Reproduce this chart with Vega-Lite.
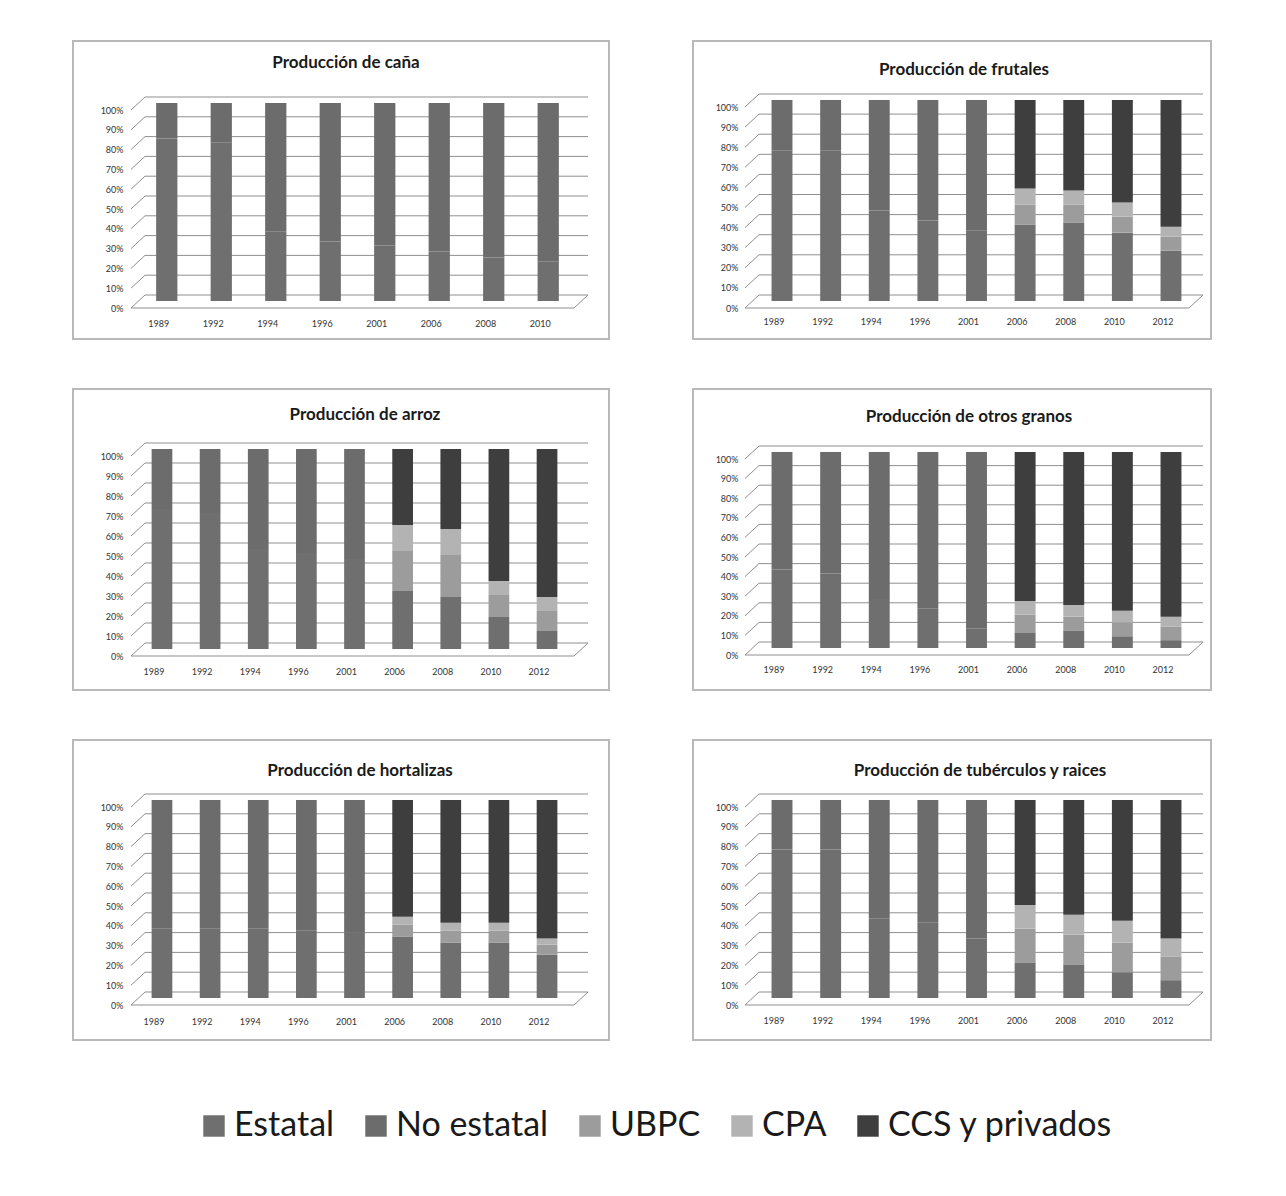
{
  "$schema": "https://vega.github.io/schema/vega-lite/v6.json",
  "background": "white",
  "padding": {"left": 72, "top": 40, "right": 0, "bottom": 0},
  "datasets": {
    "ticks": [{"v": 0}, {"v": 0.1}, {"v": 0.2}, {"v": 0.3}, {"v": 0.4}, {"v": 0.5}, {"v": 0.6}, {"v": 0.7}, {"v": 0.8}, {"v": 0.9}, {"v": 1}],
    "prod": [
      {"panel": "caña", "year": "1989", "group": "Estatal", "pct": 82}, {"panel": "caña", "year": "1989", "group": "No estatal", "pct": 18},
      {"panel": "caña", "year": "1992", "group": "Estatal", "pct": 80}, {"panel": "caña", "year": "1992", "group": "No estatal", "pct": 20},
      {"panel": "caña", "year": "1994", "group": "Estatal", "pct": 35}, {"panel": "caña", "year": "1994", "group": "No estatal", "pct": 65},
      {"panel": "caña", "year": "1996", "group": "Estatal", "pct": 30}, {"panel": "caña", "year": "1996", "group": "No estatal", "pct": 70},
      {"panel": "caña", "year": "2001", "group": "Estatal", "pct": 28}, {"panel": "caña", "year": "2001", "group": "No estatal", "pct": 72},
      {"panel": "caña", "year": "2006", "group": "Estatal", "pct": 25}, {"panel": "caña", "year": "2006", "group": "No estatal", "pct": 75},
      {"panel": "caña", "year": "2008", "group": "Estatal", "pct": 22}, {"panel": "caña", "year": "2008", "group": "No estatal", "pct": 78},
      {"panel": "caña", "year": "2010", "group": "Estatal", "pct": 20}, {"panel": "caña", "year": "2010", "group": "No estatal", "pct": 80},

      {"panel": "frutales", "year": "1989", "group": "Estatal", "pct": 75}, {"panel": "frutales", "year": "1989", "group": "No estatal", "pct": 25},
      {"panel": "frutales", "year": "1992", "group": "Estatal", "pct": 75}, {"panel": "frutales", "year": "1992", "group": "No estatal", "pct": 25},
      {"panel": "frutales", "year": "1994", "group": "Estatal", "pct": 45}, {"panel": "frutales", "year": "1994", "group": "No estatal", "pct": 55},
      {"panel": "frutales", "year": "1996", "group": "Estatal", "pct": 40}, {"panel": "frutales", "year": "1996", "group": "No estatal", "pct": 60},
      {"panel": "frutales", "year": "2001", "group": "Estatal", "pct": 35}, {"panel": "frutales", "year": "2001", "group": "No estatal", "pct": 65},
      {"panel": "frutales", "year": "2006", "group": "Estatal", "pct": 38}, {"panel": "frutales", "year": "2006", "group": "UBPC", "pct": 10}, {"panel": "frutales", "year": "2006", "group": "CPA", "pct": 8}, {"panel": "frutales", "year": "2006", "group": "CCS y privados", "pct": 44},
      {"panel": "frutales", "year": "2008", "group": "Estatal", "pct": 39}, {"panel": "frutales", "year": "2008", "group": "UBPC", "pct": 9}, {"panel": "frutales", "year": "2008", "group": "CPA", "pct": 7}, {"panel": "frutales", "year": "2008", "group": "CCS y privados", "pct": 45},
      {"panel": "frutales", "year": "2010", "group": "Estatal", "pct": 34}, {"panel": "frutales", "year": "2010", "group": "UBPC", "pct": 8}, {"panel": "frutales", "year": "2010", "group": "CPA", "pct": 7}, {"panel": "frutales", "year": "2010", "group": "CCS y privados", "pct": 51},
      {"panel": "frutales", "year": "2012", "group": "Estatal", "pct": 25}, {"panel": "frutales", "year": "2012", "group": "UBPC", "pct": 7}, {"panel": "frutales", "year": "2012", "group": "CPA", "pct": 5}, {"panel": "frutales", "year": "2012", "group": "CCS y privados", "pct": 63},

      {"panel": "arroz", "year": "1989", "group": "Estatal", "pct": 70}, {"panel": "arroz", "year": "1989", "group": "No estatal", "pct": 30},
      {"panel": "arroz", "year": "1992", "group": "Estatal", "pct": 68}, {"panel": "arroz", "year": "1992", "group": "No estatal", "pct": 32},
      {"panel": "arroz", "year": "1994", "group": "Estatal", "pct": 50}, {"panel": "arroz", "year": "1994", "group": "No estatal", "pct": 50},
      {"panel": "arroz", "year": "1996", "group": "Estatal", "pct": 48}, {"panel": "arroz", "year": "1996", "group": "No estatal", "pct": 52},
      {"panel": "arroz", "year": "2001", "group": "Estatal", "pct": 45}, {"panel": "arroz", "year": "2001", "group": "No estatal", "pct": 55},
      {"panel": "arroz", "year": "2006", "group": "Estatal", "pct": 29}, {"panel": "arroz", "year": "2006", "group": "UBPC", "pct": 20}, {"panel": "arroz", "year": "2006", "group": "CPA", "pct": 13}, {"panel": "arroz", "year": "2006", "group": "CCS y privados", "pct": 38},
      {"panel": "arroz", "year": "2008", "group": "Estatal", "pct": 26}, {"panel": "arroz", "year": "2008", "group": "UBPC", "pct": 21}, {"panel": "arroz", "year": "2008", "group": "CPA", "pct": 13}, {"panel": "arroz", "year": "2008", "group": "CCS y privados", "pct": 40},
      {"panel": "arroz", "year": "2010", "group": "Estatal", "pct": 16}, {"panel": "arroz", "year": "2010", "group": "UBPC", "pct": 11}, {"panel": "arroz", "year": "2010", "group": "CPA", "pct": 7}, {"panel": "arroz", "year": "2010", "group": "CCS y privados", "pct": 66},
      {"panel": "arroz", "year": "2012", "group": "Estatal", "pct": 9}, {"panel": "arroz", "year": "2012", "group": "UBPC", "pct": 10}, {"panel": "arroz", "year": "2012", "group": "CPA", "pct": 7}, {"panel": "arroz", "year": "2012", "group": "CCS y privados", "pct": 74},

      {"panel": "granos", "year": "1989", "group": "Estatal", "pct": 40}, {"panel": "granos", "year": "1989", "group": "No estatal", "pct": 60},
      {"panel": "granos", "year": "1992", "group": "Estatal", "pct": 38}, {"panel": "granos", "year": "1992", "group": "No estatal", "pct": 62},
      {"panel": "granos", "year": "1994", "group": "Estatal", "pct": 25}, {"panel": "granos", "year": "1994", "group": "No estatal", "pct": 75},
      {"panel": "granos", "year": "1996", "group": "Estatal", "pct": 20}, {"panel": "granos", "year": "1996", "group": "No estatal", "pct": 80},
      {"panel": "granos", "year": "2001", "group": "Estatal", "pct": 10}, {"panel": "granos", "year": "2001", "group": "No estatal", "pct": 90},
      {"panel": "granos", "year": "2006", "group": "Estatal", "pct": 8}, {"panel": "granos", "year": "2006", "group": "UBPC", "pct": 9}, {"panel": "granos", "year": "2006", "group": "CPA", "pct": 7}, {"panel": "granos", "year": "2006", "group": "CCS y privados", "pct": 76},
      {"panel": "granos", "year": "2008", "group": "Estatal", "pct": 9}, {"panel": "granos", "year": "2008", "group": "UBPC", "pct": 7}, {"panel": "granos", "year": "2008", "group": "CPA", "pct": 6}, {"panel": "granos", "year": "2008", "group": "CCS y privados", "pct": 78},
      {"panel": "granos", "year": "2010", "group": "Estatal", "pct": 6}, {"panel": "granos", "year": "2010", "group": "UBPC", "pct": 7}, {"panel": "granos", "year": "2010", "group": "CPA", "pct": 6}, {"panel": "granos", "year": "2010", "group": "CCS y privados", "pct": 81},
      {"panel": "granos", "year": "2012", "group": "Estatal", "pct": 4}, {"panel": "granos", "year": "2012", "group": "UBPC", "pct": 7}, {"panel": "granos", "year": "2012", "group": "CPA", "pct": 5}, {"panel": "granos", "year": "2012", "group": "CCS y privados", "pct": 84},

      {"panel": "hortalizas", "year": "1989", "group": "Estatal", "pct": 35}, {"panel": "hortalizas", "year": "1989", "group": "No estatal", "pct": 65},
      {"panel": "hortalizas", "year": "1992", "group": "Estatal", "pct": 35}, {"panel": "hortalizas", "year": "1992", "group": "No estatal", "pct": 65},
      {"panel": "hortalizas", "year": "1994", "group": "Estatal", "pct": 35}, {"panel": "hortalizas", "year": "1994", "group": "No estatal", "pct": 65},
      {"panel": "hortalizas", "year": "1996", "group": "Estatal", "pct": 34}, {"panel": "hortalizas", "year": "1996", "group": "No estatal", "pct": 66},
      {"panel": "hortalizas", "year": "2001", "group": "Estatal", "pct": 33}, {"panel": "hortalizas", "year": "2001", "group": "No estatal", "pct": 67},
      {"panel": "hortalizas", "year": "2006", "group": "Estatal", "pct": 31}, {"panel": "hortalizas", "year": "2006", "group": "UBPC", "pct": 6}, {"panel": "hortalizas", "year": "2006", "group": "CPA", "pct": 4}, {"panel": "hortalizas", "year": "2006", "group": "CCS y privados", "pct": 59},
      {"panel": "hortalizas", "year": "2008", "group": "Estatal", "pct": 28}, {"panel": "hortalizas", "year": "2008", "group": "UBPC", "pct": 6}, {"panel": "hortalizas", "year": "2008", "group": "CPA", "pct": 4}, {"panel": "hortalizas", "year": "2008", "group": "CCS y privados", "pct": 62},
      {"panel": "hortalizas", "year": "2010", "group": "Estatal", "pct": 28}, {"panel": "hortalizas", "year": "2010", "group": "UBPC", "pct": 6}, {"panel": "hortalizas", "year": "2010", "group": "CPA", "pct": 4}, {"panel": "hortalizas", "year": "2010", "group": "CCS y privados", "pct": 62},
      {"panel": "hortalizas", "year": "2012", "group": "Estatal", "pct": 22}, {"panel": "hortalizas", "year": "2012", "group": "UBPC", "pct": 5}, {"panel": "hortalizas", "year": "2012", "group": "CPA", "pct": 3}, {"panel": "hortalizas", "year": "2012", "group": "CCS y privados", "pct": 70},

      {"panel": "tuberculos", "year": "1989", "group": "Estatal", "pct": 75}, {"panel": "tuberculos", "year": "1989", "group": "No estatal", "pct": 25},
      {"panel": "tuberculos", "year": "1992", "group": "Estatal", "pct": 75}, {"panel": "tuberculos", "year": "1992", "group": "No estatal", "pct": 25},
      {"panel": "tuberculos", "year": "1994", "group": "Estatal", "pct": 40}, {"panel": "tuberculos", "year": "1994", "group": "No estatal", "pct": 60},
      {"panel": "tuberculos", "year": "1996", "group": "Estatal", "pct": 38}, {"panel": "tuberculos", "year": "1996", "group": "No estatal", "pct": 62},
      {"panel": "tuberculos", "year": "2001", "group": "Estatal", "pct": 30}, {"panel": "tuberculos", "year": "2001", "group": "No estatal", "pct": 70},
      {"panel": "tuberculos", "year": "2006", "group": "Estatal", "pct": 18}, {"panel": "tuberculos", "year": "2006", "group": "UBPC", "pct": 17}, {"panel": "tuberculos", "year": "2006", "group": "CPA", "pct": 12}, {"panel": "tuberculos", "year": "2006", "group": "CCS y privados", "pct": 53},
      {"panel": "tuberculos", "year": "2008", "group": "Estatal", "pct": 17}, {"panel": "tuberculos", "year": "2008", "group": "UBPC", "pct": 15}, {"panel": "tuberculos", "year": "2008", "group": "CPA", "pct": 10}, {"panel": "tuberculos", "year": "2008", "group": "CCS y privados", "pct": 58},
      {"panel": "tuberculos", "year": "2010", "group": "Estatal", "pct": 13}, {"panel": "tuberculos", "year": "2010", "group": "UBPC", "pct": 15}, {"panel": "tuberculos", "year": "2010", "group": "CPA", "pct": 11}, {"panel": "tuberculos", "year": "2010", "group": "CCS y privados", "pct": 61},
      {"panel": "tuberculos", "year": "2012", "group": "Estatal", "pct": 9}, {"panel": "tuberculos", "year": "2012", "group": "UBPC", "pct": 12}, {"panel": "tuberculos", "year": "2012", "group": "CPA", "pct": 9}, {"panel": "tuberculos", "year": "2012", "group": "CCS y privados", "pct": 70}
    ]
  },
  "config": {
    "view": {"stroke": "#b9b9b9", "strokeWidth": 2},
    "font": "Lato",
    "axis": {"labelFont": "Lato", "labelFontSize": 9, "labelColor": "#333333", "labelOverlap": false, "ticks": false, "domain": false, "grid": false, "title": null},
    "title": {"font": "Lato", "fontSize": 17, "fontWeight": "bold", "color": "#1a1a1a", "anchor": "middle"},
    "bar": {"strokeWidth": 0},
    "legend": {
      "orient": "none", "legendX": 124, "legendY": 1068, "direction": "horizontal",
      "symbolType": "square", "symbolSize": 460, "symbolStrokeWidth": 0, "symbolOpacity": 1,
      "labelFont": "Lato", "labelFontSize": 34, "labelColor": "#1a1a1a", "labelOffset": 3, "labelLimit": 0,
      "columnPadding": 24, "padding": 0, "title": null
    }
  },
  "columns": 2,
  "spacing": {"row": 48, "column": 82},
  "resolve": {"scale": {"color": "shared"}, "legend": {"color": "shared"}},
  "concat": [
    {
      "width": 536, "height": 298,
      "title": {"text": "Producción de caña", "offset": -31, "dx": 5},
      "layer": [
        {
          "data": {"name": "ticks"},
          "layer": [
            {"mark": {"type": "rule", "color": "#8f8f8f", "yOffset": -6},
             "encoding": {"x": {"datum": 0, "type": "quantitative", "scale": {"domain": [0, 1], "range": [72, 515]}, "axis": null}, "x2": {"datum": 1},
                          "y": {"field": "v", "type": "quantitative", "scale": {"domain": [0, 1], "range": [260, 62], "nice": false}}}},
            {"mark": {"type": "rule", "color": "#8f8f8f", "xOffset": -14, "yOffset": 7, "y2Offset": -6},
             "encoding": {"x": {"datum": 0, "type": "quantitative"}, "x2": {"datum": 0}, "y": {"field": "v", "type": "quantitative"}, "y2": {"field": "v"}}},
            {"transform": [{"filter": "datum.v == 0"}],
             "mark": {"type": "rule", "color": "#8f8f8f", "xOffset": -14, "x2Offset": -14, "yOffset": 7},
             "encoding": {"x": {"datum": 0, "type": "quantitative"}, "x2": {"datum": 1}, "y": {"field": "v", "type": "quantitative"}}},
            {"transform": [{"filter": "datum.v == 0"}],
             "mark": {"type": "rule", "color": "#8f8f8f", "xOffset": -14, "yOffset": 7, "y2Offset": -6},
             "encoding": {"x": {"datum": 1, "type": "quantitative"}, "x2": {"datum": 1}, "y": {"field": "v", "type": "quantitative"}, "y2": {"field": "v"}}}
          ]
        },
        {
          "data": {"name": "prod"},
          "transform": [{"filter": "datum.panel == 'caña'"}, {"calculate": "indexof(['Estatal','No estatal','UBPC','CPA','CCS y privados'], datum.group)", "as": "k"}],
          "mark": {"type": "bar"},
          "encoding": {
            "x": {"field": "year", "type": "nominal", "scale": {"range": [66.8, 502.2], "paddingInner": 0.61, "paddingOuter": 0.3}, "axis": {"orient": "bottom", "offset": -22, "labelPadding": 2, "labelOffset": -8, "labelAngle": 0}},
            "y": {"field": "pct", "type": "quantitative", "stack": "normalize", "scale": {"domain": [0, 1], "range": [260, 62], "nice": false}, "axis": {"orient": "left", "offset": -52, "labelPadding": 2, "labelOffset": 7, "labelOverlap": false, "tickCount": 11, "values": [0, 0.1, 0.2, 0.3, 0.4, 0.5, 0.6, 0.7, 0.8, 0.9, 1], "format": ".0%"}},
            "color": {"field": "group", "type": "nominal", "scale": {"domain": ["Estatal", "No estatal", "UBPC", "CPA", "CCS y privados"], "range": ["#6f6f6f", "#6c6c6c", "#9c9c9c", "#b3b3b3", "#3e3e3e"]}},
            "order": {"field": "k", "type": "quantitative"}
          }
        }
      ],
      "resolve": {"scale": {"x": "independent"}}
    },
    {
      "width": 518, "height": 298,
      "title": {"text": "Producción de frutales", "offset": -38, "dx": 12},
      "layer": [
        {
          "data": {"name": "ticks"},
          "layer": [
            {"mark": {"type": "rule", "color": "#8f8f8f", "yOffset": -6},
             "encoding": {"x": {"datum": 0, "type": "quantitative", "scale": {"domain": [0, 1], "range": [66, 510]}, "axis": null}, "x2": {"datum": 1},
                          "y": {"field": "v", "type": "quantitative", "scale": {"domain": [0, 1], "range": [260, 59], "nice": false}}}},
            {"mark": {"type": "rule", "color": "#8f8f8f", "xOffset": -14, "yOffset": 7, "y2Offset": -6},
             "encoding": {"x": {"datum": 0, "type": "quantitative"}, "x2": {"datum": 0}, "y": {"field": "v", "type": "quantitative"}, "y2": {"field": "v"}}},
            {"transform": [{"filter": "datum.v == 0"}],
             "mark": {"type": "rule", "color": "#8f8f8f", "xOffset": -14, "x2Offset": -14, "yOffset": 7},
             "encoding": {"x": {"datum": 0, "type": "quantitative"}, "x2": {"datum": 1}, "y": {"field": "v", "type": "quantitative"}}},
            {"transform": [{"filter": "datum.v == 0"}],
             "mark": {"type": "rule", "color": "#8f8f8f", "xOffset": -14, "yOffset": 7, "y2Offset": -6},
             "encoding": {"x": {"datum": 1, "type": "quantitative"}, "x2": {"datum": 1}, "y": {"field": "v", "type": "quantitative"}, "y2": {"field": "v"}}}
          ]
        },
        {
          "data": {"name": "prod"},
          "transform": [{"filter": "datum.panel == 'frutales'"}, {"calculate": "indexof(['Estatal','No estatal','UBPC','CPA','CCS y privados'], datum.group)", "as": "k"}],
          "mark": {"type": "bar"},
          "encoding": {
            "x": {"field": "year", "type": "nominal", "scale": {"range": [64.7, 502.3], "paddingInner": 0.57, "paddingOuter": 0.285}, "axis": {"orient": "bottom", "offset": -24, "labelPadding": 2, "labelOffset": -8, "labelAngle": 0}},
            "y": {"field": "pct", "type": "quantitative", "stack": "normalize", "scale": {"domain": [0, 1], "range": [260, 59], "nice": false}, "axis": {"orient": "left", "offset": -47, "labelPadding": 2, "labelOffset": 7, "labelOverlap": false, "tickCount": 11, "values": [0, 0.1, 0.2, 0.3, 0.4, 0.5, 0.6, 0.7, 0.8, 0.9, 1], "format": ".0%"}},
            "color": {"field": "group", "type": "nominal"},
            "order": {"field": "k", "type": "quantitative"}
          }
        }
      ],
      "resolve": {"scale": {"x": "independent"}}
    },
    {
      "width": 536, "height": 301,
      "title": {"text": "Producción de arroz", "offset": -35, "dx": 24},
      "layer": [
        {
          "data": {"name": "ticks"},
          "layer": [
            {"mark": {"type": "rule", "color": "#8f8f8f", "yOffset": -6},
             "encoding": {"x": {"datum": 0, "type": "quantitative", "scale": {"domain": [0, 1], "range": [72, 515]}, "axis": null}, "x2": {"datum": 1},
                          "y": {"field": "v", "type": "quantitative", "scale": {"domain": [0, 1], "range": [260, 60], "nice": false}}}},
            {"mark": {"type": "rule", "color": "#8f8f8f", "xOffset": -14, "yOffset": 7, "y2Offset": -6},
             "encoding": {"x": {"datum": 0, "type": "quantitative"}, "x2": {"datum": 0}, "y": {"field": "v", "type": "quantitative"}, "y2": {"field": "v"}}},
            {"transform": [{"filter": "datum.v == 0"}],
             "mark": {"type": "rule", "color": "#8f8f8f", "xOffset": -14, "x2Offset": -14, "yOffset": 7},
             "encoding": {"x": {"datum": 0, "type": "quantitative"}, "x2": {"datum": 1}, "y": {"field": "v", "type": "quantitative"}}},
            {"transform": [{"filter": "datum.v == 0"}],
             "mark": {"type": "rule", "color": "#8f8f8f", "xOffset": -14, "yOffset": 7, "y2Offset": -6},
             "encoding": {"x": {"datum": 1, "type": "quantitative"}, "x2": {"datum": 1}, "y": {"field": "v", "type": "quantitative"}, "y2": {"field": "v"}}}
          ]
        },
        {
          "data": {"name": "prod"},
          "transform": [{"filter": "datum.panel == 'arroz'"}, {"calculate": "indexof(['Estatal','No estatal','UBPC','CPA','CCS y privados'], datum.group)", "as": "k"}],
          "mark": {"type": "bar"},
          "encoding": {
            "x": {"field": "year", "type": "nominal", "scale": {"range": [64.9, 498.1], "paddingInner": 0.57, "paddingOuter": 0.285}, "axis": {"orient": "bottom", "offset": -25, "labelPadding": 2, "labelOffset": -8, "labelAngle": 0}},
            "y": {"field": "pct", "type": "quantitative", "stack": "normalize", "scale": {"domain": [0, 1], "range": [260, 60], "nice": false}, "axis": {"orient": "left", "offset": -52, "labelPadding": 2, "labelOffset": 7, "labelOverlap": false, "tickCount": 11, "values": [0, 0.1, 0.2, 0.3, 0.4, 0.5, 0.6, 0.7, 0.8, 0.9, 1], "format": ".0%"}},
            "color": {"field": "group", "type": "nominal"},
            "order": {"field": "k", "type": "quantitative"}
          }
        }
      ],
      "resolve": {"scale": {"x": "independent"}}
    },
    {
      "width": 518, "height": 301,
      "title": {"text": "Producción de otros granos", "offset": -37, "dx": 17},
      "layer": [
        {
          "data": {"name": "ticks"},
          "layer": [
            {"mark": {"type": "rule", "color": "#8f8f8f", "yOffset": -6},
             "encoding": {"x": {"datum": 0, "type": "quantitative", "scale": {"domain": [0, 1], "range": [66, 510]}, "axis": null}, "x2": {"datum": 1},
                          "y": {"field": "v", "type": "quantitative", "scale": {"domain": [0, 1], "range": [259, 63], "nice": false}}}},
            {"mark": {"type": "rule", "color": "#8f8f8f", "xOffset": -14, "yOffset": 7, "y2Offset": -6},
             "encoding": {"x": {"datum": 0, "type": "quantitative"}, "x2": {"datum": 0}, "y": {"field": "v", "type": "quantitative"}, "y2": {"field": "v"}}},
            {"transform": [{"filter": "datum.v == 0"}],
             "mark": {"type": "rule", "color": "#8f8f8f", "xOffset": -14, "x2Offset": -14, "yOffset": 7},
             "encoding": {"x": {"datum": 0, "type": "quantitative"}, "x2": {"datum": 1}, "y": {"field": "v", "type": "quantitative"}}},
            {"transform": [{"filter": "datum.v == 0"}],
             "mark": {"type": "rule", "color": "#8f8f8f", "xOffset": -14, "yOffset": 7, "y2Offset": -6},
             "encoding": {"x": {"datum": 1, "type": "quantitative"}, "x2": {"datum": 1}, "y": {"field": "v", "type": "quantitative"}, "y2": {"field": "v"}}}
          ]
        },
        {
          "data": {"name": "prod"},
          "transform": [{"filter": "datum.panel == 'granos'"}, {"calculate": "indexof(['Estatal','No estatal','UBPC','CPA','CCS y privados'], datum.group)", "as": "k"}],
          "mark": {"type": "bar"},
          "encoding": {
            "x": {"field": "year", "type": "nominal", "scale": {"range": [64.7, 502.3], "paddingInner": 0.57, "paddingOuter": 0.285}, "axis": {"orient": "bottom", "offset": -27, "labelPadding": 2, "labelOffset": -8, "labelAngle": 0}},
            "y": {"field": "pct", "type": "quantitative", "stack": "normalize", "scale": {"domain": [0, 1], "range": [259, 63], "nice": false}, "axis": {"orient": "left", "offset": -47, "labelPadding": 2, "labelOffset": 7, "labelOverlap": false, "tickCount": 11, "values": [0, 0.1, 0.2, 0.3, 0.4, 0.5, 0.6, 0.7, 0.8, 0.9, 1], "format": ".0%"}},
            "color": {"field": "group", "type": "nominal"},
            "order": {"field": "k", "type": "quantitative"}
          }
        }
      ],
      "resolve": {"scale": {"x": "independent"}}
    },
    {
      "width": 536, "height": 300,
      "title": {"text": "Producción de hortalizas", "offset": -40, "dx": 19},
      "layer": [
        {
          "data": {"name": "ticks"},
          "layer": [
            {"mark": {"type": "rule", "color": "#8f8f8f", "yOffset": -6},
             "encoding": {"x": {"datum": 0, "type": "quantitative", "scale": {"domain": [0, 1], "range": [72, 515]}, "axis": null}, "x2": {"datum": 1},
                          "y": {"field": "v", "type": "quantitative", "scale": {"domain": [0, 1], "range": [258, 60], "nice": false}}}},
            {"mark": {"type": "rule", "color": "#8f8f8f", "xOffset": -14, "yOffset": 7, "y2Offset": -6},
             "encoding": {"x": {"datum": 0, "type": "quantitative"}, "x2": {"datum": 0}, "y": {"field": "v", "type": "quantitative"}, "y2": {"field": "v"}}},
            {"transform": [{"filter": "datum.v == 0"}],
             "mark": {"type": "rule", "color": "#8f8f8f", "xOffset": -14, "x2Offset": -14, "yOffset": 7},
             "encoding": {"x": {"datum": 0, "type": "quantitative"}, "x2": {"datum": 1}, "y": {"field": "v", "type": "quantitative"}}},
            {"transform": [{"filter": "datum.v == 0"}],
             "mark": {"type": "rule", "color": "#8f8f8f", "xOffset": -14, "yOffset": 7, "y2Offset": -6},
             "encoding": {"x": {"datum": 1, "type": "quantitative"}, "x2": {"datum": 1}, "y": {"field": "v", "type": "quantitative"}, "y2": {"field": "v"}}}
          ]
        },
        {
          "data": {"name": "prod"},
          "transform": [{"filter": "datum.panel == 'hortalizas'"}, {"calculate": "indexof(['Estatal','No estatal','UBPC','CPA','CCS y privados'], datum.group)", "as": "k"}],
          "mark": {"type": "bar"},
          "encoding": {
            "x": {"field": "year", "type": "nominal", "scale": {"range": [64.9, 498.1], "paddingInner": 0.57, "paddingOuter": 0.285}, "axis": {"orient": "bottom", "offset": -25, "labelPadding": 2, "labelOffset": -8, "labelAngle": 0}},
            "y": {"field": "pct", "type": "quantitative", "stack": "normalize", "scale": {"domain": [0, 1], "range": [258, 60], "nice": false}, "axis": {"orient": "left", "offset": -52, "labelPadding": 2, "labelOffset": 7, "labelOverlap": false, "tickCount": 11, "values": [0, 0.1, 0.2, 0.3, 0.4, 0.5, 0.6, 0.7, 0.8, 0.9, 1], "format": ".0%"}},
            "color": {"field": "group", "type": "nominal"},
            "order": {"field": "k", "type": "quantitative"}
          }
        }
      ],
      "resolve": {"scale": {"x": "independent"}}
    },
    {
      "width": 518, "height": 300,
      "title": {"text": "Producción de tubérculos y raices", "offset": -40, "dx": 28},
      "layer": [
        {
          "data": {"name": "ticks"},
          "layer": [
            {"mark": {"type": "rule", "color": "#8f8f8f", "yOffset": -6},
             "encoding": {"x": {"datum": 0, "type": "quantitative", "scale": {"domain": [0, 1], "range": [66, 510]}, "axis": null}, "x2": {"datum": 1},
                          "y": {"field": "v", "type": "quantitative", "scale": {"domain": [0, 1], "range": [258, 60], "nice": false}}}},
            {"mark": {"type": "rule", "color": "#8f8f8f", "xOffset": -14, "yOffset": 7, "y2Offset": -6},
             "encoding": {"x": {"datum": 0, "type": "quantitative"}, "x2": {"datum": 0}, "y": {"field": "v", "type": "quantitative"}, "y2": {"field": "v"}}},
            {"transform": [{"filter": "datum.v == 0"}],
             "mark": {"type": "rule", "color": "#8f8f8f", "xOffset": -14, "x2Offset": -14, "yOffset": 7},
             "encoding": {"x": {"datum": 0, "type": "quantitative"}, "x2": {"datum": 1}, "y": {"field": "v", "type": "quantitative"}}},
            {"transform": [{"filter": "datum.v == 0"}],
             "mark": {"type": "rule", "color": "#8f8f8f", "xOffset": -14, "yOffset": 7, "y2Offset": -6},
             "encoding": {"x": {"datum": 1, "type": "quantitative"}, "x2": {"datum": 1}, "y": {"field": "v", "type": "quantitative"}, "y2": {"field": "v"}}}
          ]
        },
        {
          "data": {"name": "prod"},
          "transform": [{"filter": "datum.panel == 'tuberculos'"}, {"calculate": "indexof(['Estatal','No estatal','UBPC','CPA','CCS y privados'], datum.group)", "as": "k"}],
          "mark": {"type": "bar"},
          "encoding": {
            "x": {"field": "year", "type": "nominal", "scale": {"range": [64.7, 502.3], "paddingInner": 0.57, "paddingOuter": 0.285}, "axis": {"orient": "bottom", "offset": -26, "labelPadding": 2, "labelOffset": -8, "labelAngle": 0}},
            "y": {"field": "pct", "type": "quantitative", "stack": "normalize", "scale": {"domain": [0, 1], "range": [258, 60], "nice": false}, "axis": {"orient": "left", "offset": -47, "labelPadding": 2, "labelOffset": 7, "labelOverlap": false, "tickCount": 11, "values": [0, 0.1, 0.2, 0.3, 0.4, 0.5, 0.6, 0.7, 0.8, 0.9, 1], "format": ".0%"}},
            "color": {"field": "group", "type": "nominal"},
            "order": {"field": "k", "type": "quantitative"}
          }
        }
      ],
      "resolve": {"scale": {"x": "independent"}}
    }
  ]
}
